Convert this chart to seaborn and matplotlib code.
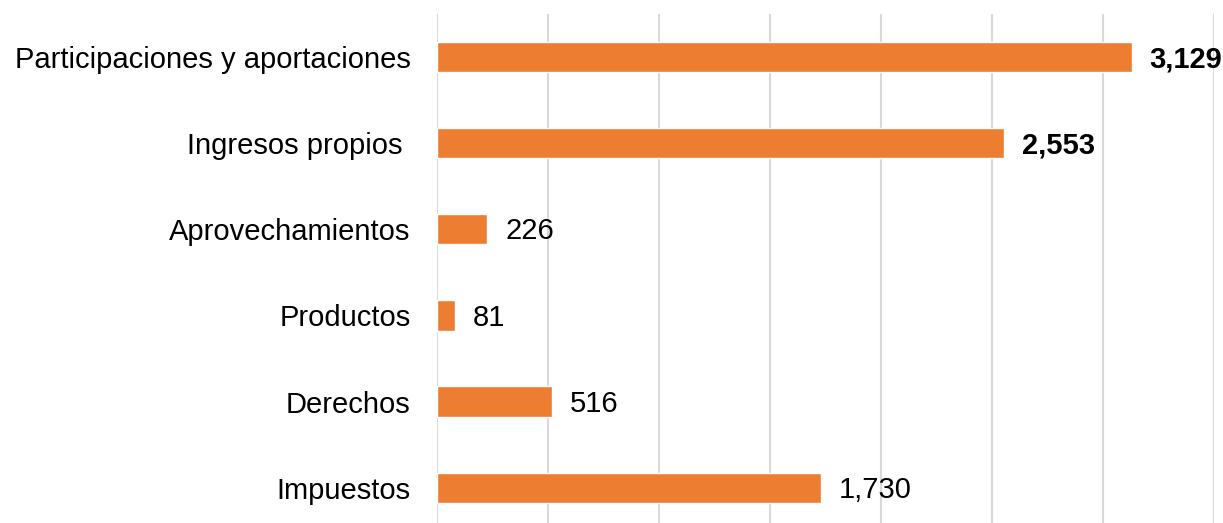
import matplotlib.pyplot as plt
import seaborn as sns
import pandas as pd

sns.set_style("white")
plt.rcParams['font.family'] = ['Liberation Sans', 'DejaVu Sans']

# data
categories = ["Participaciones y aportaciones", "Ingresos propios ", "Aprovechamientos",
              "Productos", "Derechos", "Impuestos"]
values = [3129, 2553, 226, 81, 516, 1730]
bold_labels = [True, True, False, False, False, False]

df = pd.DataFrame({"Concepto": categories, "Monto": values})

fig = plt.figure(figsize=(12.23, 5.23), dpi=100)
ax = fig.add_axes([437 / 1223, 0, (1214 - 437) / 1223, (523 - 14) / 523])

sns.barplot(data=df, y="Concepto", x="Monto", orient="h", color="#ED7D31",
            saturation=1, width=0.35, ax=ax)

ax.set_xlim(0, 3500)
ax.set_ylim(5.41, -0.5)
ax.set_xticks(range(0, 3501, 500))
ax.set_xticklabels([])
ax.grid(axis="x", color="#d9d9d9", linewidth=1.5)
ax.set_axisbelow(True)
ax.tick_params(axis="y", length=0, pad=19, labelsize=21, labelcolor="black")
ax.tick_params(axis="x", length=0)
ax.set_xlabel("")
ax.set_ylabel("")
for s in ax.spines.values():
    s.set_visible(False)

# value labels
for i, v in enumerate(values):
    ax.annotate(f"{v:,}", xy=(v, i), xytext=(13, -1.5), textcoords="offset points",
                va="center", ha="left", fontsize=21,
                fontweight="bold" if bold_labels[i] else "normal", color="black")

fig.savefig("out.png", dpi=100)
